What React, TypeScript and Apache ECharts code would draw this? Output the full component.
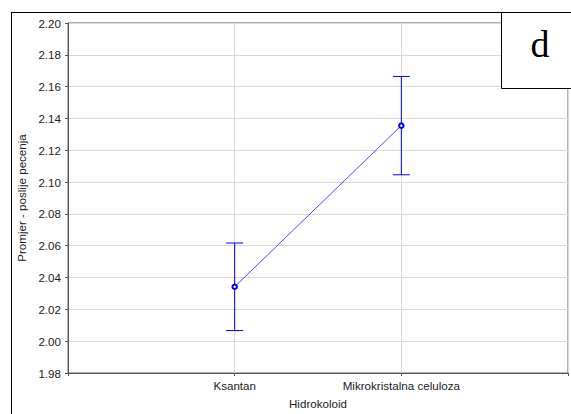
import React, { useEffect, useRef } from "react";
import * as echarts from "echarts";

const categories = ["Ksantan", "Mikrokristalna celuloza"];
const means = [2.0342, 2.1355];
const errors = [0.0275, 0.0309];
const yTicks = { min: 1.98, max: 2.2, interval: 0.02 };
const yAxisTitle = "Promjer - poslije pecenja";
const xAxisTitle = "Hidrokoloid";
const panelLetter = "d";

export default function App() {
  const ref = useRef<HTMLDivElement>(null);
  useEffect(() => {
    if (!ref.current) return;
    const chart = echarts.init(ref.current, null, { renderer: "svg" });
    const pts = means.map((m, i) => [i + 1, m]);
    const errData = means.map((m, i) => [i + 1, m - errors[i], m + errors[i]]);
    const font = "Liberation Sans, Arial, sans-serif";
    const fs = 11.6;
    chart.setOption({
      animation: false,
      backgroundColor: "#ffffff",
      grid: {
        left: 68,
        top: 23,
        right: 1,
        bottom: 38,
        show: true,
        borderColor: "#666666",
        borderWidth: 1,
        containLabel: false,
      },
      xAxis: {
        type: "value",
        min: 0,
        max: categories.length + 1,
        interval: 1,
        name: xAxisTitle,
        nameLocation: "middle",
        nameGap: 24,
        nameTextStyle: { fontFamily: font, fontSize: fs, color: "#222" },
        axisLine: { show: true, lineStyle: { color: "#555", width: 1 } },
        axisTick: { show: true, length: 3, lineStyle: { color: "#555" } },
        axisLabel: {
          margin: 6,
          fontFamily: font,
          fontSize: fs,
          color: "#222",
          formatter: (v: number) => categories[v - 1] ?? "",
        },
        splitLine: { show: true, lineStyle: { color: "#d9d9d9", width: 1 } },
      },
      yAxis: {
        type: "value",
        min: yTicks.min,
        max: yTicks.max,
        interval: yTicks.interval,
        name: yAxisTitle,
        nameLocation: "middle",
        nameGap: 36,
        nameTextStyle: { fontFamily: font, fontSize: fs, color: "#222" },
        axisLine: { show: true, lineStyle: { color: "#555", width: 1 } },
        axisTick: { show: true, length: 3, lineStyle: { color: "#555" } },
        axisLabel: {
          margin: 7,
          fontFamily: font,
          fontSize: fs,
          color: "#222",
          formatter: (v: number) => v.toFixed(2),
        },
        splitLine: { show: true, lineStyle: { color: "#d9d9d9", width: 1 } },
      },
      series: [
        {
          type: "custom",
          data: errData,
          z: 3,
          renderItem: (params: any, api: any) => {
            const x = api.value(0);
            const lo = api.coord([x, api.value(1)]);
            const hi = api.coord([x, api.value(2)]);
            const hw = 8.5;
            const style = { stroke: "#0000ff", lineWidth: 1 };
            return {
              type: "group",
              children: [
                { type: "line", shape: { x1: lo[0], y1: lo[1], x2: hi[0], y2: hi[1] }, style },
                { type: "line", shape: { x1: lo[0] - hw, y1: lo[1], x2: lo[0] + hw, y2: lo[1] }, style },
                { type: "line", shape: { x1: hi[0] - hw, y1: hi[1], x2: hi[0] + hw, y2: hi[1] }, style },
              ],
            };
          },
        },
        {
          type: "line",
          data: pts,
          z: 4,
          symbol: "emptyCircle",
          symbolSize: 4.5,
          lineStyle: { color: "#4a4aff", width: 1 },
          itemStyle: { color: "#0000ff", borderWidth: 1 },
        },
      ],
      graphic: [
        {
          type: "line",
          z: 100,
          shape: { x1: 11.5, y1: 12, x2: 11.5, y2: 414 },
          style: { stroke: "#000", lineWidth: 1 },
        },
        {
          type: "line",
          z: 100,
          shape: { x1: 11, y1: 12.5, x2: 571, y2: 12.5 },
          style: { stroke: "#000", lineWidth: 1 },
        },
        {
          type: "rect",
          z: 100,
          shape: { x: 501.5, y: 12.5, width: 75, height: 76 },
          style: { fill: "#fff", stroke: "#000", lineWidth: 1 },
        },
        {
          type: "text",
          z: 101,
          x: 540,
          y: 63,
          style: {
            text: panelLetter,
            fontFamily: "Liberation Serif, Times New Roman, serif",
            fontSize: 38,
            fill: "#000",
            textAlign: "center",
            textVerticalAlign: "bottom",
          },
        },
      ],
    });
    return () => chart.dispose();
  }, []);
  return (
    <div
      ref={ref}
      style={{ position: "fixed", left: 0, top: 0, width: 571, height: 414 }}
    />
  );
}
